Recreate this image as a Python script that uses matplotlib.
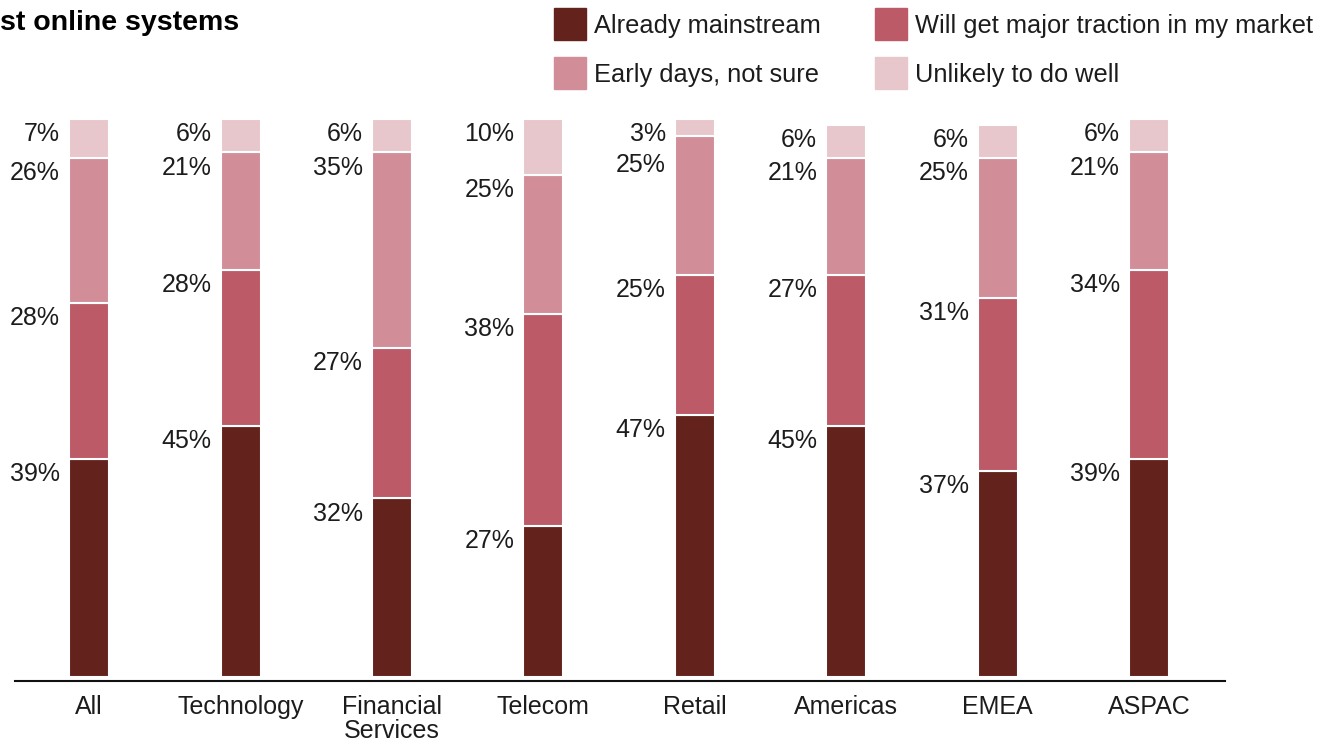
import numpy as np
import matplotlib.pyplot as plt
from matplotlib.patches import Rectangle

plt.rcParams['font.family'] = ['Liberation Sans', 'DejaVu Sans']

categories = ['All', 'Technology', 'Financial\nServices', 'Telecom',
              'Retail', 'Americas', 'EMEA', 'ASPAC']
series_names = ['Already mainstream', 'Will get major traction in my market',
                'Early days, not sure', 'Unlikely to do well']
mainstream = [39, 45, 32, 27, 47, 45, 37, 39]
traction = [28, 28, 27, 38, 25, 27, 31, 34]
early_days = [26, 21, 35, 25, 25, 21, 25, 21]
unlikely = [7, 6, 6, 10, 3, 6, 6, 6]
colors = ['#63221B', '#BC5A67', '#D28E98', '#E8C7CC']

series = [mainstream, traction, early_days, unlikely]
text_color = '#1c1c1c'

fig = plt.figure(figsize=(13.34, 7.44), dpi=100)
ax = fig.add_axes([0.0112, 0.0847, 0.907, 0.7554])

x = np.arange(len(categories))
width = 0.264
data = np.array(series, dtype=float)
bottoms = np.vstack([np.zeros(len(categories)), np.cumsum(data, axis=0)[:-1]])
tops = bottoms + data

for vals, bot, col in zip(data, bottoms, colors):
    ax.bar(x, vals, width, bottom=bot, color=col,
           edgecolor='white', linewidth=1.5)

# value labels sit just left of each segment top; push down when crowded
min_gap = 5.6
for i in range(len(categories)):
    prev = None
    for k in range(len(series) - 1, -1, -1):
        y = tops[k, i] - 2.7
        if prev is not None and prev - y < min_gap:
            y = prev - min_gap
        prev = y
        ax.text(x[i] - width / 2 - 0.06, y, f'{int(data[k, i])}%',
                ha='right', va='center', fontsize=18, color=text_color)

ax.set_xlim(-0.49, 7.50)
ax.set_ylim(-0.7, 100)
ax.set_xticks(x)
ax.set_xticklabels(categories, fontsize=18, color=text_color,
                   linespacing=1.0, va='top')
ax.tick_params(axis='x', length=0, pad=10)
ax.set_yticks([])
for s in ['top', 'right', 'left']:
    ax.spines[s].set_visible(False)
ax.spines['bottom'].set_linewidth(1.5)
ax.spines['bottom'].set_color('#111111')

fig.text(0.0, 1 - 23 / 744, 'st online systems', fontsize=20.5,
         fontweight='bold', ha='left', va='center', color='#000000')

# two-column legend drawn in figure coordinates
W, H = 1334, 744
legend_pos = [(554, 8), (875, 8), (554, 57), (875, 57)]
for (px, py), name, col in zip(legend_pos, series_names, colors):
    fig.patches.append(Rectangle((px / W, 1 - (py + 32) / H), 32 / W, 32 / H,
                                 transform=fig.transFigure, color=col))
    fig.text((px + 40) / W, 1 - (py + 18) / H, name, fontsize=18.3,
             ha='left', va='center', color=text_color)

fig.savefig('out.png', dpi=100)
